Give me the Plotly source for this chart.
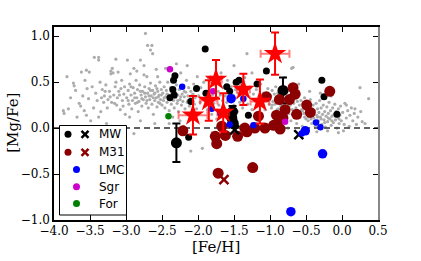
import plotly.graph_objects as go

# ---------------- data ----------------
# Milky Way field stars (grey), ([Fe/H], [Mg/Fe])
FIELD = [
    (-3.87,0.19),(-3.82,0.56),(-3.80,0.21),(-3.86,0.16),(-3.73,0.49),(-3.70,0.41),(-3.72,0.46),(-3.62,0.61),
    (-3.58,0.19),(-3.55,0.63),(-3.55,0.14),(-3.54,0.43),(-3.52,0.32),(-3.51,0.61),(-3.65,0.27),(-3.60,0.35),
    (-3.68,0.12),(-3.77,0.33),(-3.57,0.52),(-3.63,0.24),
    (-3.44,0.77),(-3.38,0.77),(-3.38,0.74),(-3.38,0.12),(-3.31,0.28),(-3.21,0.59),(-3.19,0.65),(-3.14,0.75),
    (-3.21,0.62),(-3.18,0.60),(-3.11,0.61),(-3.47,0.45),(-3.45,0.22),(-3.42,0.38),(-3.40,0.30),(-3.36,0.50),
    (-3.35,0.18),(-3.33,0.42),(-3.30,0.35),(-3.28,0.47),(-3.26,0.22),(-3.25,0.31),(-3.23,0.40),(-3.20,0.28),
    (-3.17,0.36),(-3.15,0.45),(-3.13,0.25),(-3.12,0.33),(-3.10,0.40),(-3.08,0.20),(-3.06,0.52),(-3.05,0.30),
    (-3.03,0.37),(-3.02,0.45),(-3.01,0.15),(-3.49,0.08),(-3.27,0.05),
    (-3.22,0.34),(-3.16,0.27),(-3.09,0.36),(-3.04,0.24),(-3.29,0.40),(-3.34,0.33),(-3.14,0.50),(-3.07,0.43),
    (-2.98,0.74),(-2.94,0.59),(-2.89,0.65),(-2.80,0.74),(-2.75,0.68),(-2.70,0.90),(-2.66,0.85),(-2.63,0.81),
    (-2.73,1.03),(-2.56,0.56),(-2.64,0.90),(-2.99,0.33),(-2.97,0.41),(-2.96,0.26),(-2.95,0.48),(-2.93,0.36),
    (-2.92,0.21),(-2.91,0.30),(-2.90,0.44),(-2.88,0.38),(-2.87,0.27),(-2.86,0.52),(-2.85,0.33),(-2.84,0.42),
    (-2.83,0.18),(-2.82,0.29),(-2.81,0.47),(-2.79,0.36),(-2.78,0.24),(-2.77,0.40),(-2.76,0.31),(-2.74,0.45),
    (-2.73,0.34),(-2.72,0.27),(-2.71,0.56),(-2.70,0.38),(-2.69,0.22),(-2.68,0.43),(-2.67,0.31),(-2.66,0.49),
    (-2.65,0.35),(-2.64,0.26),(-2.63,0.41),(-2.62,0.15),(-2.61,0.37),(-2.60,0.30),(-2.59,0.46),(-2.58,0.33),
    (-2.57,0.23),(-2.56,0.40),(-2.55,0.28),(-2.54,0.36),(-2.53,0.50),(-2.52,0.31),(-2.51,0.42),(-2.50,0.25),
    (-2.89,-0.06),(-2.80,0.08),(-2.60,0.05),(-2.95,0.12),(-2.85,0.62),(-2.75,0.58),(-2.58,0.64),
    (-2.97,0.30),(-2.93,0.45),(-2.88,0.33),(-2.84,0.28),(-2.80,0.40),(-2.78,0.32),(-2.74,0.38),(-2.71,0.30),
    (-2.68,0.35),(-2.66,0.41),(-2.62,0.33),(-2.60,0.38),(-2.57,0.43),(-2.55,0.34),(-2.53,0.27),(-2.51,0.36),
    (-2.49,0.38),(-2.48,0.30),(-2.47,0.45),(-2.46,0.22),(-2.45,0.34),(-2.44,0.41),(-2.43,0.28),(-2.42,0.50),
    (-2.41,0.36),(-2.40,0.19),(-2.39,0.31),(-2.38,0.44),(-2.37,0.26),(-2.36,0.38),(-2.35,0.55),(-2.34,0.30),
    (-2.33,0.22),(-2.32,0.40),(-2.31,0.33),(-2.30,0.47),(-2.29,0.27),(-2.28,0.36),(-2.27,0.18),(-2.26,0.42),
    (-2.25,0.31),(-2.24,0.60),(-2.23,0.25),(-2.22,0.37),(-2.21,0.29),(-2.20,0.45),(-2.19,0.34),(-2.18,0.21),
    (-2.17,0.39),(-2.16,0.52),(-2.15,0.28),(-2.14,0.35),(-2.13,0.44),(-2.12,0.24),(-2.11,0.32),(-2.10,0.40),
    (-2.09,0.17),(-2.08,0.30),(-2.07,0.37),(-2.06,0.48),(-2.05,0.26),(-2.04,0.33),(-2.03,0.41),(-2.02,0.21),
    (-2.01,0.56),(-2.45,0.65),(-2.30,0.70),(-2.15,0.68),(-2.40,0.05),(-2.25,0.08),(-2.10,-0.25),(-2.20,0.02),
    (-2.35,0.12),(-2.47,0.33),(-2.43,0.37),(-2.38,0.35),(-2.34,0.42),(-2.28,0.30),(-2.24,0.34),(-2.19,0.40),
    (-2.14,0.30),(-2.09,0.35),(-2.05,0.42),
    (-1.99,0.35),(-1.97,0.28),(-1.96,0.44),(-1.94,-0.22),(-1.93,0.32),(-1.92,0.50),(-1.90,0.24),(-1.89,0.38),
    (-1.87,0.20),(-1.86,0.55),(-1.84,0.30),(-1.83,0.42),(-1.81,0.15),(-1.80,0.36),(-1.78,0.27),(-1.77,0.47),
    (-1.75,0.33),(-1.74,0.10),(-1.72,0.40),(-1.71,0.25),(-1.69,0.36),(-1.68,0.60),(-1.66,0.30),(-1.65,0.44),
    (-1.63,0.22),(-1.62,0.35),(-1.60,0.28),(-1.59,0.52),(-1.57,0.38),(-1.56,0.20),(-1.54,0.45),(-1.53,0.30),
    (-1.51,0.36),(-1.50,0.25),(-1.48,0.42),(-1.47,0.33),(-1.45,0.18),(-1.44,0.38),(-1.42,0.28),(-1.41,0.47),
    (-1.39,0.35),(-1.38,0.22),(-1.36,0.30),(-1.35,0.55),(-1.32,0.81),(-1.33,0.40),(-1.31,0.26),(-1.29,0.34),
    (-1.27,0.44),(-1.25,0.20),(-1.23,0.37),(-1.21,0.30),(-1.19,0.42),(-1.17,0.25),(-1.15,0.35),(-1.13,0.48),
    (-1.11,0.28),(-1.09,0.38),(-1.07,0.20),(-1.05,0.32),(-1.03,0.43),(-1.01,0.26),(-1.80,-0.05),(-1.40,-0.03),
    (-1.20,0.05),(-1.60,0.02),(-1.50,0.68),(-1.25,0.60),
    (-0.99,0.35),(-0.98,0.22),(-0.97,0.41),(-0.96,0.29),(-0.95,0.16),(-0.94,0.37),(-0.93,0.26),(-0.92,0.45),
    (-0.91,0.32),(-0.90,0.20),(-0.89,0.38),(-0.88,0.28),(-0.87,0.12),(-0.86,0.34),(-0.85,0.24),(-0.84,0.42),
    (-0.83,0.30),(-0.82,0.18),(-0.81,0.36),(-0.80,0.26),(-0.79,0.10),(-0.78,0.33),(-0.77,0.22),(-0.76,0.40),
    (-0.75,0.28),(-0.74,0.16),(-0.73,0.35),(-0.72,0.25),(-0.71,0.08),(-0.70,0.65),(-0.70,0.31),(-0.69,0.20),
    (-0.68,0.66),(-0.68,0.38),(-0.67,0.27),(-0.66,0.14),(-0.65,0.32),(-0.64,0.22),(-0.63,0.05),(-0.62,0.29),
    (-0.61,0.18),(-0.60,0.36),(-0.59,0.25),(-0.58,0.12),(-0.57,0.30),(-0.56,0.20),(-0.55,0.02),(-0.54,0.27),
    (-0.53,0.16),(-0.52,0.33),(-0.51,0.23),(-0.50,0.10),(-0.80,0.55),(-0.60,0.48),(-0.90,-0.02),(-0.75,0.00),
    (-0.97,0.25),(-0.92,0.30),(-0.88,0.21),(-0.84,0.27),(-0.78,0.19),(-0.74,0.24),(-0.69,0.15),(-0.64,0.18),
    (-0.59,0.14),(-0.55,0.19),(-0.52,0.12),
    (-0.49,0.28),(-0.48,0.18),(-0.47,0.08),(-0.46,0.22),(-0.45,0.14),(-0.44,0.31),(-0.43,0.20),(-0.42,0.05),
    (-0.41,0.16),(-0.40,0.25),(-0.39,0.11),(-0.38,0.19),(-0.37,0.02),(-0.36,0.27),(-0.35,0.14),(-0.34,0.21),
    (-0.33,0.08),(-0.32,0.17),(-0.31,0.30),(-0.30,0.12),(-0.29,0.22),(-0.28,0.04),(-0.27,0.15),(-0.26,0.25),
    (-0.25,0.09),(-0.24,0.18),(-0.23,0.01),(-0.22,0.13),(-0.21,0.23),(-0.20,0.07),(-0.19,0.16),(-0.18,0.28),
    (-0.17,0.10),(-0.16,0.19),(-0.15,0.03),(-0.14,0.13),(-0.13,0.22),(-0.12,0.06),(-0.11,0.15),(-0.10,0.26),
    (-0.09,0.09),(-0.08,0.18),(-0.07,0.00),(-0.06,0.12),(-0.05,0.21),(-0.04,0.05),(-0.03,0.14),(-0.02,0.24),
    (-0.01,0.08),(-0.45,0.40),(-0.30,0.38),(-0.15,0.35),(-0.35,-0.04),(-0.20,-0.03),(-0.05,-0.05),
    (-0.47,0.12),(-0.43,0.10),(-0.39,0.07),(-0.34,0.12),(-0.29,0.10),(-0.24,0.06),(-0.19,0.11),(-0.14,0.08),
    (-0.09,0.13),(-0.04,0.10),
    (0.01,0.17),(0.03,0.04),(0.04,0.27),(0.06,0.11),(0.06,0.25),(0.08,0.19),(0.10,0.02),(0.11,0.14),
    (0.13,0.22),(0.15,0.08),(0.17,0.16),(0.18,0.21),(0.20,0.04),(0.22,0.12),(0.25,0.44),(0.26,0.18),
    (0.28,0.07),(0.32,0.05),(0.37,0.32),(0.02,-0.03),
]
FIELD_FEH = [p[0] for p in FIELD]
FIELD_MGFE = [p[1] for p in FIELD]

# MW clusters: small black circles
MW_FEH = [-1.90, -2.32, -2.34, -2.35, -2.33, -2.39, -2.02, -2.10, -1.60, -1.56, -1.43, -1.47,
          -1.18, -1.30, -1.05, -1.89, -0.28, -0.25, -0.07, -2.13]
MW_MGFE = [0.86, 0.57, 0.52, 0.42, 0.36, 0.33, 0.43, 0.29, 0.45, 0.40, 0.52, 0.50,
           0.48, 0.14, 0.62, 0.38, 0.52, 0.34, 0.15, -0.10]
# MW clusters with error bars (large black circles)
MWE_FEH = [-2.30, -0.82, -1.52, -1.53, -1.51]
MWE_MGFE = [-0.16, 0.41, 0.18, 0.11, 0.05]
MWE_ERR = [0.21, 0.14, 0.06, 0.05, 0.04]
# MW crosses
MWX_FEH = [-1.49, -0.60]
MWX_MGFE = [-0.02, -0.07]

# M31 clusters (dark red circles)
M31_FEH = [-0.68, -0.65, -0.17, -1.05, -0.73, -0.87, -0.49, -0.44, -0.79, -0.63, -0.91, -1.16,
           -0.86, -0.95, -1.07, -0.86, -1.21, -1.35, -1.32, -1.45, -1.62, -1.76, -1.74, -1.72,
           -1.24, -2.21, -1.67, -0.82]
M31_MGFE = [0.44, 0.37, 0.40, 0.34, 0.31, 0.31, 0.25, 0.17, 0.20, 0.15, 0.14, 0.13,
            0.09, 0.03, 0.00, -0.01, 0.00, 0.00, -0.04, -0.09, -0.08, -0.09, -0.17, -0.49,
            -0.43, -0.03, 0.02, 0.11]
# M31 cross
M31X_FEH = [-1.64]
M31X_MGFE = [-0.56]

# M31 red stars with error bars
STAR_FEH = [-0.93, -1.75, -1.85, -1.65, -1.37, -1.14, -2.07]
STAR_MGFE = [0.81, 0.53, 0.30, 0.17, 0.42, 0.29, 0.14]
STAR_FEH_ERR = [0.20, 0.08, 0.12, 0.08, 0.09, 0.13, 0.20]
STAR_MGFE_ERR = [0.23, 0.21, 0.22, 0.21, 0.17, 0.24, 0.21]

# LMC
LMC_FEH = [-2.22, -1.37, -1.81, -1.69, -1.23, -1.56, -0.36, -0.30, -0.56]
LMC_MGFE = [0.45, 0.32, 0.21, 0.16, 0.03, 0.04, 0.06, 0.01, -0.06]
LMCB_FEH = [-1.54, -0.51, -0.27, -0.71]
LMCB_MGFE = [0.32, -0.03, -0.28, -0.91]

# Sgr, Fornax
SGR_FEH = [-2.39, -1.79, -0.79]
SGR_MGFE = [0.64, 0.40, 0.07]
FOR_FEH = [-2.41]
FOR_MGFE = [0.13]

SOLAR = 0.0
X_RANGE = [-4.0, 0.5]
Y_RANGE = [-1.0, 1.1]
X_TICKS = [-4.0, -3.5, -3.0, -2.5, -2.0, -1.5, -1.0, -0.5, 0.0, 0.5]
Y_TICKS = [-1.0, -0.5, 0.0, 0.5, 1.0]

LEGEND_LABELS = ["MW", "M31", "LMC", "Sgr", "For"]

# ---------------- figure ----------------
SERIF = "DejaVu Serif"
SANS = "DejaVu Sans"
DARKRED = "#8B0000"

fig = go.Figure()

fig.add_trace(go.Scatter(x=FIELD_FEH, y=FIELD_MGFE, mode="markers",
                         marker=dict(size=3.2, color="#acacac", line=dict(width=0))))
fig.add_trace(go.Scatter(x=X_RANGE, y=[SOLAR, SOLAR], mode="lines",
                         line=dict(color="rgba(70,70,70,0.85)", width=2, dash="6px,4px")))

fig.add_trace(go.Scatter(x=MW_FEH, y=MW_MGFE, mode="markers",
                         marker=dict(size=7, color="black")))
fig.add_trace(go.Scatter(x=MWE_FEH, y=MWE_MGFE, mode="markers",
                         marker=dict(size=11, color="black"),
                         error_y=dict(type="data", array=MWE_ERR, color="black", thickness=2, width=4)))
fig.add_trace(go.Scatter(x=M31_FEH, y=M31_MGFE, mode="markers",
                         marker=dict(size=11, color=DARKRED)))
fig.add_trace(go.Scatter(x=MWX_FEH, y=MWX_MGFE, mode="markers",
                         marker=dict(size=9, symbol="x-thin", line=dict(width=2.5, color="black"))))
fig.add_trace(go.Scatter(x=M31X_FEH, y=M31X_MGFE, mode="markers",
                         marker=dict(size=9, symbol="x-thin", line=dict(width=2.5, color=DARKRED))))
fig.add_trace(go.Scatter(x=LMC_FEH, y=LMC_MGFE, mode="markers",
                         marker=dict(size=6.5, color="blue")))
fig.add_trace(go.Scatter(x=LMCB_FEH, y=LMCB_MGFE, mode="markers",
                         marker=dict(size=9.5, color="blue")))
fig.add_trace(go.Scatter(x=SGR_FEH, y=SGR_MGFE, mode="markers",
                         marker=dict(size=6.5, color="#cc00cc")))
fig.add_trace(go.Scatter(x=FOR_FEH, y=FOR_MGFE, mode="markers",
                         marker=dict(size=6.5, color="green")))
fig.add_trace(go.Scatter(x=STAR_FEH, y=STAR_MGFE, mode="markers",
                         marker=dict(size=17, symbol="star", color="red", line=dict(width=0)),
                         error_y=dict(type="data", array=STAR_MGFE_ERR, color="red", thickness=2, width=4),
                         error_x=dict(type="data", array=STAR_FEH_ERR, color="rgba(255,40,40,0.6)",
                                      thickness=2, width=4)))

# ---- legend (drawn on a pixel-coordinate overlay axis) ----
W, H = 421, 261
L, R, T, B = 54, 43, 27, 41
box = dict(x0=59.5, x1=126.5, y0=125.5, y1=215.0)
fig.add_trace(go.Scatter(x=[box["x0"], box["x1"], box["x1"], box["x0"], box["x0"]],
                         y=[box["y0"], box["y0"], box["y1"], box["y1"], box["y0"]],
                         mode="lines", fill="toself", fillcolor="white",
                         line=dict(color="black", width=1), xaxis="x2", yaxis="y2"))
row_y = [134.3, 152.3, 169.5, 186.7, 203.5]
fig.add_trace(go.Scatter(x=[68, 68], y=row_y[:2], mode="markers", xaxis="x2", yaxis="y2",
                         marker=dict(size=7, color=["black", DARKRED])))
fig.add_trace(go.Scatter(x=[85, 85], y=row_y[:2], mode="markers", xaxis="x2", yaxis="y2",
                         marker=dict(size=7, symbol="x-thin",
                                     line=dict(width=2.5, color=["black", DARKRED]))))
fig.add_trace(go.Scatter(x=[76.5] * 3, y=row_y[2:], mode="markers", xaxis="x2", yaxis="y2",
                         marker=dict(size=7, color=["blue", "#cc00cc", "green"])))
annotations = []
for lab, yy in zip(LEGEND_LABELS, row_y):
    annotations.append(dict(x=97, y=yy, xref="x2", yref="y2", text=lab, showarrow=False,
                            xanchor="left", yanchor="middle",
                            font=dict(family=SANS, size=12, color="black")))
annotations.append(dict(x=0.5, y=-0.142, xref="paper", yref="paper", text="[Fe/H]",
                        showarrow=False, xanchor="center", yanchor="middle",
                        font=dict(family=SERIF, size=15, color="black")))
annotations.append(dict(x=-0.127, y=0.503, xref="paper", yref="paper", text="[Mg/Fe]",
                        showarrow=False, xanchor="center", yanchor="middle", textangle=-90,
                        font=dict(family=SERIF, size=15, color="black")))

axis_common = dict(showgrid=False, zeroline=False, ticks="inside", ticklen=5, tickwidth=1,
                   tickcolor="black", automargin=False,
                   tickfont=dict(family=SERIF, size=12, color="black"))

fig.update_layout(
    width=W, height=H, margin=dict(l=L, r=R, t=T, b=B, autoexpand=False),
    paper_bgcolor="white", plot_bgcolor="white", showlegend=False,
    xaxis=dict(range=X_RANGE, tickvals=X_TICKS, tickformat=".1f", showline=True,
               linecolor="black", linewidth=1.5, mirror="ticks", ticklabelstandoff=-1,
               **axis_common),
    yaxis=dict(range=Y_RANGE, tickvals=Y_TICKS, tickformat=".1f", showline=True,
               linecolor="black", linewidth=1.5, mirror=False, **axis_common),
    yaxis3=dict(range=Y_RANGE, tickvals=Y_TICKS, overlaying="y", side="right",
                showticklabels=False, showline=True, linecolor="#888888", linewidth=2,
                showgrid=False, zeroline=False, ticks="inside", ticklen=5, tickcolor="black",
                automargin=False),
    xaxis2=dict(range=[L, W - R], overlaying="x", visible=False, automargin=False),
    yaxis2=dict(range=[H - B, T], overlaying="y", visible=False, automargin=False),
    annotations=annotations,
)
# invisible trace so that the right-hand axis is rendered
fig.add_trace(go.Scatter(x=[X_RANGE[0]], y=[Y_RANGE[0]], yaxis="y3", mode="markers",
                         marker=dict(opacity=0), hoverinfo="skip"))

fig.write_html("out.html", config={"displayModeBar": False},
               post_script="document.body.style.margin='0px';document.body.style.padding='0px';")
